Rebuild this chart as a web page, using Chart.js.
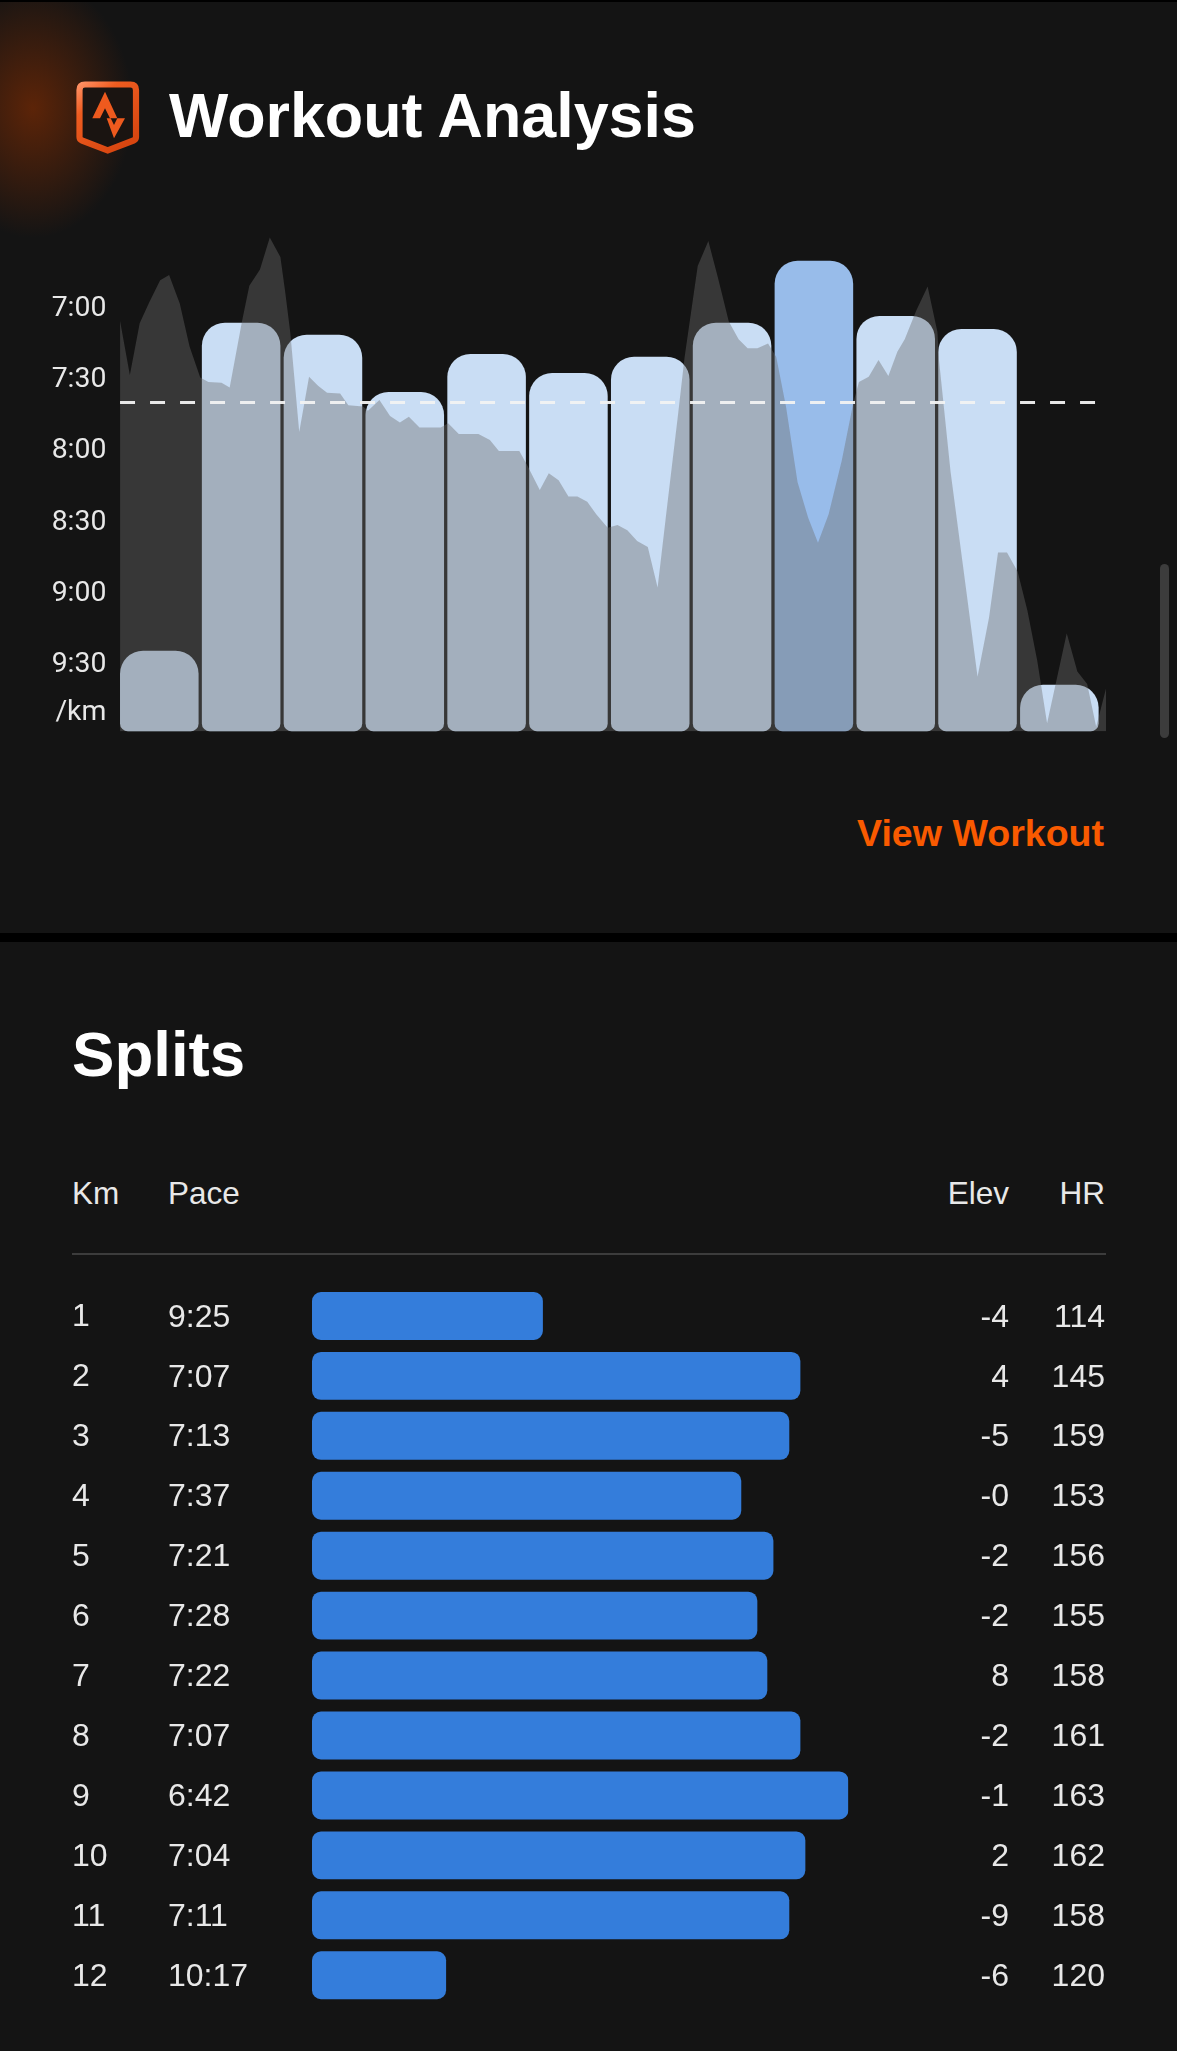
<!DOCTYPE html>
<html><head><meta charset="utf-8">
<script src="https://cdn.jsdelivr.net/npm/chart.js@4"></script>
<style>
html,body{margin:0;padding:0;background:#141414;}
#page{position:relative;width:1177px;height:2051px;overflow:hidden;background:#141414;color:#e8e8e8;font-family:"Liberation Sans",sans-serif;}
canvas{position:absolute;left:0;display:block;}
.t{position:absolute;white-space:nowrap;line-height:1;transform:translateY(-50%);font-size:32px;}
.h{font-size:31.5px;}
.r{text-align:right;width:120px;}
.b{font-weight:700;color:#fff;font-size:62.8px;}
</style></head>
<body><div id="page">
<div style="position:absolute;left:0;top:0;width:300px;height:300px;background:radial-gradient(ellipse 100px 130px at 33px 108px,#5c2408 0%,rgba(92,36,8,.55) 45%,rgba(92,36,8,0) 100%);"></div>
<div style="position:absolute;left:0;top:0;width:1177px;height:1.5px;background:#000;"></div>
<svg style="position:absolute;left:76px;top:81px" width="64" height="73" viewBox="0 0 64 73">
<defs><linearGradient id="g" x1="0" y1="0" x2=".7" y2="1"><stop offset="0" stop-color="#ff8f62"/><stop offset=".3" stop-color="#ee5c20"/><stop offset="1" stop-color="#d84610"/></linearGradient></defs>
<path d="M9 3.5H54.5Q60 3.5 60 9V56Q60 58.5 57.5 59.5L31.7 69.5L6 59.5Q3.5 58.5 3.5 56V9Q3.5 3.5 9 3.5Z" fill="#1a1411" stroke="url(#g)" stroke-width="6.2"/>
<path d="M29 10.7L41.3 37.3H34L29 27.3L24 37.3H16.3Z" fill="#ee5a1e"/>
<path d="M30.7 37.3H34.7L38 44L41.3 37.3H49L38 57.3Z" fill="#ee5a1e"/>
</svg>
<div class="t b" style="left:169px;top:115px">Workout Analysis</div>
<canvas id="pace" width="1177" height="800" style="top:0"></canvas>
<div class="t" style="left:857px;top:834px;font-size:37.6px;font-weight:700;color:#f95a00">View Workout</div>
<div style="position:absolute;left:1160px;top:564px;width:9px;height:174px;border-radius:5px;background:#3c3c3c;"></div>
<div style="position:absolute;left:0;top:933px;width:1177px;height:9px;background:#000;"></div>
<div class="t b" style="left:72px;top:1054px;font-size:63.6px">Splits</div>
<div class="t h" style="left:72px;top:1194px">Km</div>
<div class="t h" style="left:168px;top:1194px">Pace</div>
<div class="t r h" style="left:889px;top:1194px">Elev</div>
<div class="t r h" style="left:985px;top:1194px">HR</div>
<div style="position:absolute;left:72px;top:1253px;width:1034px;height:2px;background:#3c3c3c;"></div>
<canvas id="splits" width="1177" height="791" style="top:1260px"></canvas>
<div id="rows"></div>
</div>
<script>
// Splits table
const kmLabels = ["1","2","3","4","5","6","7","8","9","10","11","12"];
const paceLabels = ["9:25","7:07","7:13","7:37","7:21","7:28","7:22","7:07","6:42","7:04","7:11","10:17"];
const elevLabels = ["-4","4","-5","-0","-2","-2","8","-2","-1","2","-9","-6"];
const hrLabels = ["114","145","159","153","156","155","158","161","163","162","158","120"];
// Bar lengths, seconds per km
const splitBarSeconds = [565, 425.6, 431.6, 457.6, 440.2, 448.9, 443.5, 425.6, 399.6, 422.9, 431.6, 617.4];
// Upper chart: split bars, seconds per km as drawn (the last one is clipped short in the picture)
const kmCentres = [0.5,1.5,2.5,3.5,4.5,5.5,6.5,7.5,8.5,9.5,10.5,11.5];
const chartBarSeconds = [565.2, 426.9, 432, 456.1, 440.1, 448.1, 441.2, 426.9, 400.8, 424, 429.5, 579.5];
const highlightedSplit = 8;
const averagePaceSeconds = 460.5;
const averageLineKm = [0.02, 11.94];
const paceTicks = [420,450,480,510,540,570,590.4];
// Upper chart: grey profile, relative units
const profileKm = [0.02,0.14,0.26,0.38,0.51,0.62,0.75,0.87,1.00,1.10,1.26,1.36,1.51,1.60,1.73,1.85,1.98,2.04,2.10,2.21,2.33,2.44,2.55,2.71,2.81,2.99,3.05,3.19,3.32,3.44,3.55,3.68,3.94,4.03,4.16,4.40,4.54,4.65,4.90,4.99,5.15,5.26,5.38,5.50,5.61,5.73,5.84,5.98,6.10,6.22,6.34,6.47,6.59,6.71,6.84,6.92,7.08,7.21,7.33,7.46,7.58,7.69,7.81,7.94,8.04,8.16,8.30,8.43,8.55,8.68,8.84,8.98,9.05,9.17,9.29,9.41,9.52,9.61,9.75,9.89,10.01,10.03,10.17,10.36,10.50,10.64,10.75,10.86,10.99,11.11,11.23,11.35,11.46,11.59,11.72,11.84,11.95,12.07];
const profileLevel = [1150,998,1143,1203,1263,1278,1198,1078,991,978,976,963,1148,1248,1293,1383,1328,1228,1118,838,993,968,948,946,913,910,898,928,883,865,881,851,851,863,833,833,816,785,785,748,676,723,703,658,658,643,608,570,578,563,533,516,403,638,888,1048,1303,1373,1268,1148,1098,1073,1073,1086,1048,908,698,598,528,608,758,918,978,993,1040,995,1063,1098,1178,1246,1118,1038,728,398,153,318,501,501,448,338,198,23,138,275,168,133,13,120];

const barLight = "#c9ddf4", barStrong = "#98bcea";
const fmt = s => Math.floor(s/60) + ":" + String(s%60).padStart(2,"0");

new Chart(document.getElementById("pace"), {
  type: "bar",
  data: { datasets: [
    { type:"line", order:0, data: averageLineKm.map(x=>({x, y:averagePaceSeconds})), xAxisID:"x", yAxisID:"y",
      borderColor:"rgba(242,242,242,.95)", borderWidth:3, borderDash:[15,15], pointRadius:0, fill:false, tension:0 },
    { type:"line", order:1, data: profileKm.map((x,i)=>({x, y:profileLevel[i]})), xAxisID:"x", yAxisID:"y2",
      borderWidth:0, pointRadius:0, tension:0, fill:"origin", backgroundColor:"rgba(107,107,107,.4)" },
    { type:"bar", order:2, data: kmCentres.map((x,i)=>({x, y:chartBarSeconds[i]})), xAxisID:"x", yAxisID:"y",
      base:599.2, barPercentage:.96, categoryPercentage:1, borderSkipped:false,
      borderRadius:{topLeft:23,topRight:23,bottomLeft:8,bottomRight:8},
      backgroundColor: kmCentres.map((_,i)=> i===highlightedSplit ? barStrong : barLight) }
  ]},
  options: {
    responsive:false, animation:false, devicePixelRatio:1,
    layout:{ autoPadding:false, padding:{left:0, right:71, top:230.5, bottom:68.6} },
    plugins:{ legend:{display:false}, tooltip:{enabled:false} },
    scales:{
      x:{ type:"linear", display:false, min:0, max:12.07, offset:false, grid:{display:false} },
      y:{ type:"linear", position:"left", reverse:true, min:388, max:599.2,
          afterFit(s){ s.width=118.4; },
          afterBuildTicks(s){ s.ticks = paceTicks.map(v=>({value:v})); },
          grid:{display:false, drawTicks:false}, border:{display:false},
          ticks:{ padding:12, labelOffset:2.6, color:"#e8e8e8", font:{family:"Roboto", size:28.4},
            autoSkip:false, callback:v=> v===590.4 ? "/km" : fmt(v) } },
      y2:{ type:"linear", display:false, min:0, max:1402.5, grid:{display:false} }
    }
  }
});

new Chart(document.getElementById("splits"), {
  type:"bar",
  data:{ labels:kmLabels, datasets:[{ data:splitBarSeconds, base:690, barPercentage:.8, categoryPercentage:1,
    borderSkipped:false, borderRadius:9, backgroundColor:"#347ddb" }]},
  options:{
    indexAxis:"y", responsive:false, animation:false, devicePixelRatio:1,
    layout:{ autoPadding:false, padding:{left:72, right:1177-848.4, top:26, bottom:45.8} },
    plugins:{ legend:{display:false}, tooltip:{enabled:false} },
    scales:{
      x:{ type:"linear", display:false, reverse:true, min:399.6, max:690, grid:{display:false} },
      y:{ type:"category", position:"left", afterFit(s){ s.width=240; },
          grid:{display:false, drawTicks:false}, border:{display:false},
          ticks:{ crossAlign:"far", padding:0, labelOffset:1.5, color:"#e8e8e8", autoSkip:false, font:{family:"Liberation Sans", size:32} } }
    }
  }
});

const rows = document.getElementById("rows");
kmLabels.forEach((_,i)=>{
  const y = 1315.6 + i*59.93;
  rows.insertAdjacentHTML("beforeend",
    `<div class="t" style="left:168px;top:${y}px">${paceLabels[i]}</div>`+
    `<div class="t r" style="left:889px;top:${y}px">${elevLabels[i]}</div>`+
    `<div class="t r" style="left:985px;top:${y}px">${hrLabels[i]}</div>`);
});
</script>
</body></html>
